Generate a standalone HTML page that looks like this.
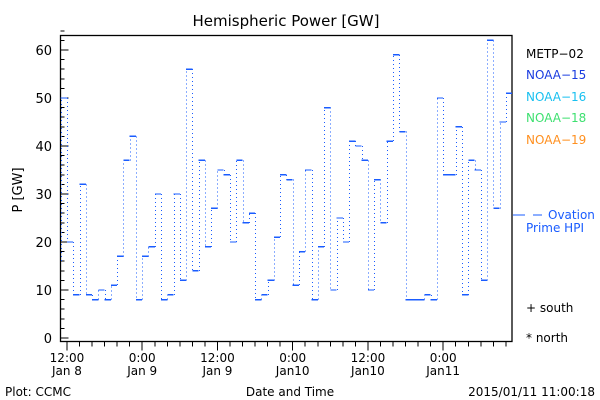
<!DOCTYPE html>
<html><head><meta charset="utf-8"><style>
body{margin:0;background:#fff}
svg{display:block;font-family:"DejaVu Sans","Liberation Sans",sans-serif}
line{shape-rendering:crispEdges}
</style></head><body>
<svg id="c" width="600" height="400" xmlns="http://www.w3.org/2000/svg">
<text x="286" y="26" font-size="15" text-anchor="middle">Hemispheric Power [GW]</text>
<rect x="60.5" y="35.5" width="451.5" height="306" fill="none" stroke="#000" stroke-width="1.3"/>
<g id="yt"></g>
<g id="xt"></g>
<g id="ser"></g>
<text x="22" y="190" font-size="13" text-anchor="middle" transform="rotate(-90 22 190)">P [GW]</text>
<text x="290" y="396" font-size="12" text-anchor="middle">Date and Time</text>
<text x="5" y="396" font-size="12">Plot: CCMC</text>
<text x="595" y="396" font-size="12" text-anchor="end">2015/01/11 11:00:18</text>
<g font-size="12">
<text x="526" y="58" fill="#000">METP−02</text>
<text x="526" y="79" fill="#1a3ce0">NOAA−15</text>
<text x="526" y="101" fill="#19c0f0">NOAA−16</text>
<text x="526" y="122" fill="#3ee070">NOAA−18</text>
<text x="526" y="144" fill="#ff9020">NOAA−19</text>
<line x1="513" y1="215" x2="525" y2="215" stroke="#1a5cff" stroke-width="1.3"/>
<line x1="533" y1="215" x2="542" y2="215" stroke="#1a5cff" stroke-width="1.3"/>
<text x="548" y="219" fill="#1a5cff">Ovation</text>
<text x="526" y="232" fill="#1a5cff">Prime HPI</text>
<text x="526" y="312" fill="#000">+ south</text>
<text x="526" y="342" fill="#000">* north</text>
</g>
</svg>
<script>
const yTicks=[0,10,20,30,40,50,60];
const xTickLabels=[["12:00","Jan 8"],["0:00","Jan 9"],["12:00","Jan 9"],["0:00","Jan10"],["12:00","Jan10"],["0:00","Jan11"]];
const xTickHours=[0,12,24,36,48,60];
const power=[50,20,9,32,9,8,10,8,11,17,37,42,8,17,19,30,8,9,30,12,56,14,37,19,27,35,34,20,37,24,26,8,9,12,21,34,33,11,18,35,8,19,48,10,25,20,41,40,37,10,33,24,41,59,43,8,8,8,9,8,50,34,34,44,9,37,35,12,62,27,45,51];
const startValue=16;
const NS="http://www.w3.org/2000/svg";
const X0=60.7,HR=6.27,HOUR0=-1;
function xs(h){return X0+(h-HOUR0)*HR;}
function ys(v){return 338-4.8*v;}
function mk(t,a,p){const e=document.createElementNS(NS,t);for(const k in a)e.setAttribute(k,a[k]);p.appendChild(e);return e;}
const yt=document.getElementById('yt');
for(let v=0;v<=64;v+=2){const major=v%10===0;
const l=mk('line',{x1:60.5,x2:60.5+(major?8:4),y1:ys(v),y2:ys(v),stroke:'#000','stroke-width':1},yt);

}
yTicks.forEach(v=>{const t=mk('text',{x:52,y:ys(v)+5,'font-size':13,'text-anchor':'end'},yt);t.textContent=v;

});
const xt=document.getElementById('xt');
for(let h=0;h<=70;h+=2){const major=h%12===0;
const l=mk('line',{x1:xs(h),x2:xs(h),y1:341.5,y2:341.5+(major?9:5),stroke:'#000','stroke-width':1},xt);

}
xTickHours.forEach((h,i)=>{const t=mk('text',{x:xs(h),y:362,'font-size':12,'text-anchor':'middle'},xt);t.textContent=xTickLabels[i][0];


const t2=mk('text',{x:xs(h),y:375,'font-size':12,'text-anchor':'middle'},xt);t2.textContent=xTickLabels[i][1];

});
const ser=document.getElementById('ser');
let prev=startValue;
power.forEach((v,i)=>{const x1=xs(HOUR0+i),x2=xs(HOUR0+i+1);
const xc=Math.round(x1)+0.5;
const d=mk('line',{x1:xc,x2:xc,y1:ys(prev),y2:ys(v),stroke:'#1a5cff','stroke-width':1,'stroke-dasharray':'1 3'},ser);


const h=mk('line',{x1:x1,x2:x2,y1:ys(v),y2:ys(v),stroke:'#1a5cff','stroke-width':1.4},ser);


prev=v;});
</script>
</body></html>
